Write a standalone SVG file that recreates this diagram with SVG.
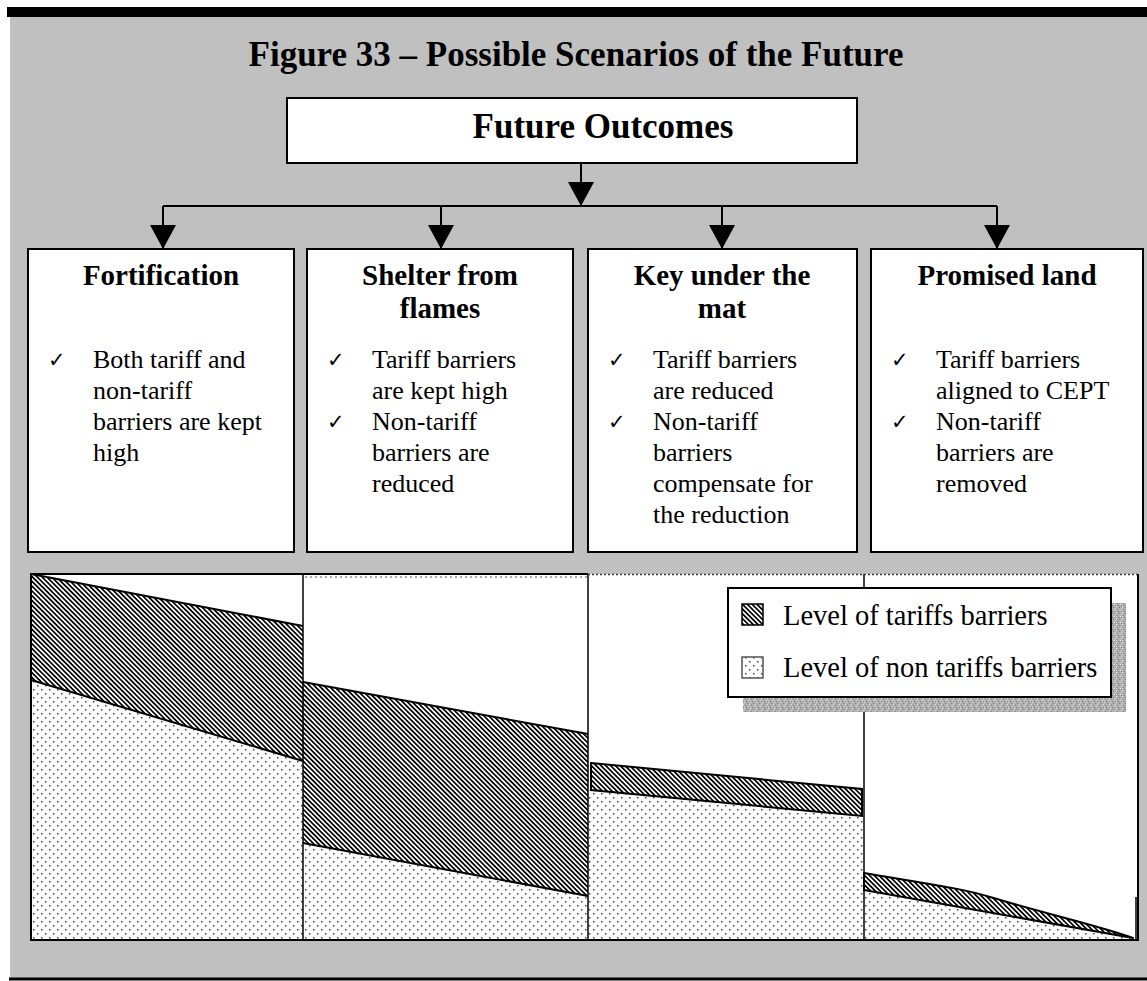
<svg xmlns="http://www.w3.org/2000/svg" width="1147" height="981" viewBox="0 0 1147 981">
  <style>
    .title { font-family: "Liberation Serif", "Times New Roman", serif; font-weight: bold; font-size: 35px; fill: #000; }
    .head { font-family: "Liberation Serif", "Times New Roman", serif; font-weight: bold; font-size: 29px; fill: #000; text-anchor: middle; }
    .body { font-family: "Liberation Serif", "Times New Roman", serif; font-size: 26px; fill: #000; }
    .tick { font-family: "DejaVu Sans", sans-serif; font-size: 21px; fill: #000; }
    .legend { font-family: "Liberation Serif", "Times New Roman", serif; font-size: 28.5px; fill: #000; }
    .box { fill: #fff; stroke: #000; stroke-width: 2; }
    .conn { fill: none; stroke: #000; stroke-width: 2; }
    .edge { fill: none; stroke: #000; stroke-width: 2; }
    .divider { stroke: #000; stroke-width: 1.5; }
  </style>
  <defs>
    <marker id="arrow" viewBox="0 0 24 26" refX="24" refY="13" markerWidth="24" markerHeight="26" markerUnits="userSpaceOnUse" orient="auto">
      <path d="M0,0 L24,13 L0,26 Z" fill="#000"/>
    </marker>
    <!-- diagonal hatch for tariff barriers -->
    <pattern id="hatch" width="3.4" height="3.4" patternUnits="userSpaceOnUse" patternTransform="rotate(45)">
      <rect width="3.4" height="3.4" fill="#fff"/>
      <rect width="3.4" height="1.7" fill="#000"/>
    </pattern>
    <!-- dot screen for non-tariff barriers -->
    <pattern id="dots" width="8" height="8" patternUnits="userSpaceOnUse">
      <rect width="8" height="8" fill="#fff"/>
      <rect x="1" y="1" width="1.5" height="1.5" fill="#444"/>
      <rect x="5" y="5" width="1.5" height="1.5" fill="#444"/>
    </pattern>
    <!-- speckled drop shadow -->
    <pattern id="speckle" width="6" height="6" patternUnits="userSpaceOnUse">
      <rect width="6" height="6" fill="#b0b0b0"/>
      <rect x="0" y="0" width="1" height="1" fill="#e6e6e6"/>
      <rect x="3" y="1" width="1" height="1" fill="#7a7a7a"/>
      <rect x="5" y="2" width="1" height="1" fill="#e0e0e0"/>
      <rect x="1" y="3" width="1" height="1" fill="#808080"/>
      <rect x="4" y="4" width="1" height="1" fill="#e8e8e8"/>
      <rect x="2" y="5" width="1" height="1" fill="#757575"/>
      <rect x="0" y="4" width="1" height="1" fill="#d0d0d0"/>
      <rect x="5" y="5" width="1" height="1" fill="#8a8a8a"/>
    </pattern>
  </defs>

  <!-- page frame -->
  <rect x="10" y="17" width="1137" height="961" fill="#c0c0c0"/>
  <rect x="7" y="7" width="1140" height="10" fill="#000"/>
  <rect x="9" y="977.5" width="1138" height="3" fill="#000"/>

  <text id="figure-title" class="title" x="576" y="66" text-anchor="middle">Figure 33 – Possible Scenarios of the Future</text>

  <!-- connectors -->
  <g id="connectors">
    <path class="conn" d="M581,163 V206" marker-end="url(#arrow)"/>
    <path class="conn" d="M163,206 H997"/>
    <path class="conn" d="M163,206 V249" marker-end="url(#arrow)"/>
    <path class="conn" d="M441,206 V249" marker-end="url(#arrow)"/>
    <path class="conn" d="M722,206 V249" marker-end="url(#arrow)"/>
    <path class="conn" d="M997,206 V249" marker-end="url(#arrow)"/>
  </g>

  <g id="future-outcomes">
    <rect class="box" x="287" y="98" width="570" height="65"/>
    <text class="title" x="603" y="138" text-anchor="middle">Future Outcomes</text>
  </g>

  <g id="fortification">
    <rect class="box" x="28" y="249" width="266" height="303"/>
    <text class="head" x="161" y="285">Fortification</text>
    <text class="tick" x="48" y="367">✓</text>
    <text class="body">
      <tspan x="93" y="368">Both tariff and</tspan>
      <tspan x="93" y="399">non-tariff</tspan>
      <tspan x="93" y="430">barriers are kept</tspan>
      <tspan x="93" y="461">high</tspan>
    </text>
  </g>

  <g id="shelter-from-flames">
    <rect class="box" x="307" y="249" width="266" height="303"/>
    <text class="head" x="440" y="285">Shelter from</text>
    <text class="head" x="440" y="318">flames</text>
    <text class="tick" x="327" y="367">✓</text>
    <text class="tick" x="327" y="429">✓</text>
    <text class="body">
      <tspan x="372" y="368">Tariff barriers</tspan>
      <tspan x="372" y="399">are kept high</tspan>
      <tspan x="372" y="430">Non-tariff</tspan>
      <tspan x="372" y="461">barriers are</tspan>
      <tspan x="372" y="492">reduced</tspan>
    </text>
  </g>

  <g id="key-under-the-mat">
    <rect class="box" x="588" y="249" width="269" height="303"/>
    <text class="head" x="722" y="285">Key under the</text>
    <text class="head" x="722" y="318">mat</text>
    <text class="tick" x="608" y="367">✓</text>
    <text class="tick" x="608" y="429">✓</text>
    <text class="body">
      <tspan x="653" y="368">Tariff barriers</tspan>
      <tspan x="653" y="399">are reduced</tspan>
      <tspan x="653" y="430">Non-tariff</tspan>
      <tspan x="653" y="461">barriers</tspan>
      <tspan x="653" y="492">compensate for</tspan>
      <tspan x="653" y="523">the reduction</tspan>
    </text>
  </g>

  <g id="promised-land">
    <rect class="box" x="871" y="249" width="272" height="303"/>
    <text class="head" x="1007" y="285">Promised land</text>
    <text class="tick" x="891" y="367">✓</text>
    <text class="tick" x="891" y="429">✓</text>
    <text class="body">
      <tspan x="936" y="368">Tariff barriers</tspan>
      <tspan x="936" y="399">aligned to CEPT</tspan>
      <tspan x="936" y="430">Non-tariff</tspan>
      <tspan x="936" y="461">barriers are</tspan>
      <tspan x="936" y="492">removed</tspan>
    </text>
  </g>

  <!-- barrier level chart -->
  <g id="barrier-chart">
    <rect x="31" y="574" width="1107" height="366" fill="#fff"/>
    <!-- panel 1 -->
    <polygon points="31,680 303,761 303,940 31,940" fill="url(#dots)"/>
    <polygon points="31,574 303,626 303,761 31,680" fill="url(#hatch)"/>
    <polyline class="edge" points="31,574 303,626"/>
    <polyline class="edge" points="31,680 303,761"/>
    <!-- panel 2 -->
    <polygon points="303,843 588,896 588,940 303,940" fill="url(#dots)"/>
    <polygon points="303,682 588,734 588,896 303,843" fill="url(#hatch)"/>
    <polyline class="edge" points="303,682 588,734"/>
    <polyline class="edge" points="303,843 588,896"/>
    <line x1="305" y1="577" x2="588" y2="577" stroke="#555" stroke-width="1.2" stroke-dasharray="2 3"/>
    <!-- panel 3 -->
    <polygon points="588,790 864,816 864,940 588,940" fill="url(#dots)"/>
    <polygon points="591,763 862,789 862,816 591,790" fill="url(#hatch)" stroke="#000" stroke-width="2"/>
    <!-- panel 4 -->
    <polygon points="864,890 1133,938 1138,940 864,940" fill="url(#dots)"/>
    <path d="M864,873 C930,884 965,889 990,897 C1050,915 1100,926 1133,938 L864,890 Z" fill="url(#hatch)" stroke="#000" stroke-width="2" stroke-linejoin="round"/>
    <line x1="1136" y1="897" x2="1136" y2="940" stroke="#000" stroke-width="1.5"/>
    <!-- frame -->
    <line class="divider" x1="303" y1="574" x2="303" y2="940"/>
    <line class="divider" x1="588" y1="574" x2="588" y2="940"/>
    <line class="divider" x1="864" y1="574" x2="864" y2="940"/>
    <path class="edge" d="M588,574 H31 V940 H1138 V574"/>
    <line x1="588" y1="574.5" x2="1138" y2="574.5" stroke="#333" stroke-width="1.5" stroke-dasharray="2 2"/>
  </g>

  <g id="legend">
    <rect x="743" y="603" width="383" height="109" fill="url(#speckle)"/>
    <rect x="728" y="588" width="383" height="109" fill="#fff" stroke="#000" stroke-width="2"/>
    <rect x="742" y="604" width="21" height="21" fill="url(#hatch)" stroke="#000" stroke-width="1.5"/>
    <text class="legend" x="783" y="625">Level of tariffs barriers</text>
    <rect x="742" y="657" width="21" height="21" fill="url(#dots)" stroke="#555" stroke-width="1.5"/>
    <text class="legend" x="783" y="677">Level of non tariffs barriers</text>
  </g>
</svg>
